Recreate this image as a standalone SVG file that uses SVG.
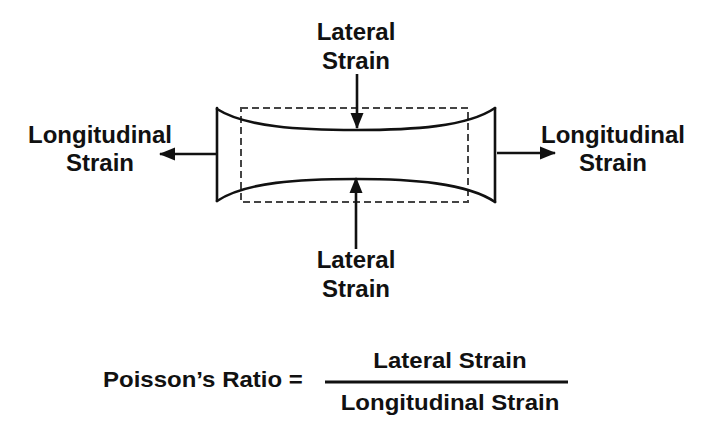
<svg xmlns="http://www.w3.org/2000/svg" width="707" height="431" viewBox="0 0 707 431">
<style>
.t{font-family:"Liberation Sans",Arial,sans-serif;font-weight:bold;font-size:24px;fill:#111;text-anchor:middle}
.s{fill:none;stroke:#111;stroke-width:2.6;stroke-linecap:round}
.d{fill:none;stroke:#444;stroke-width:2;stroke-dasharray:7 4}
.c{fill:none;stroke:#111;stroke-width:2.6}
</style>
<defs>
<marker id="ah" markerUnits="userSpaceOnUse" markerWidth="18" markerHeight="14" refX="15" refY="7" orient="auto">
<path d="M0,0.5 L16,7 L0,13.5 Z" fill="#111"/>
</marker>
</defs>
<rect width="707" height="431" fill="#fff"/>
<g id="specimen">
<rect class="d" x="241" y="108" width="227" height="94"/>
<line class="s" x1="217" y1="108" x2="217" y2="201"/>
<line class="s" x1="495" y1="108" x2="495" y2="202"/>
<path class="s" d="M217,109 C245,127 300,130 356,130 C412,130 467,127 495,108"/>
<path class="s" d="M217,201 C245,182 300,179 356,179 C412,179 467,183 495,202"/>
</g>
<g id="connectors">
<line class="c" x1="357" y1="74" x2="357" y2="128" marker-end="url(#ah)"/>
<line class="c" x1="356" y1="249" x2="356" y2="178" marker-end="url(#ah)"/>
<line class="c" x1="216" y1="154" x2="160" y2="154" marker-end="url(#ah)"/>
<line class="c" x1="497" y1="153" x2="555" y2="153" marker-end="url(#ah)"/>
</g>
<g id="label-top">
<text class="t" x="356" y="40">Lateral</text>
<text class="t" x="356" y="69">Strain</text>
</g>
<g id="label-bottom">
<text class="t" x="356" y="268">Lateral</text>
<text class="t" x="356" y="297">Strain</text>
</g>
<g id="label-left">
<text class="t" x="100" y="143">Longitudinal</text>
<text class="t" x="100" y="171">Strain</text>
</g>
<g id="label-right">
<text class="t" x="613" y="143">Longitudinal</text>
<text class="t" x="613" y="171">Strain</text>
</g>
<g id="formula">
<text class="t" style="text-anchor:start" transform="translate(103,387) scale(1,0.9)">Poisson’s Ratio =</text>
<text class="t" transform="translate(450,368) scale(1,0.9)">Lateral Strain</text>
<line x1="325" y1="382" x2="568" y2="382" stroke="#111" stroke-width="3"/>
<text class="t" transform="translate(450,410) scale(1,0.9)">Longitudinal Strain</text>
</g>
</svg>
